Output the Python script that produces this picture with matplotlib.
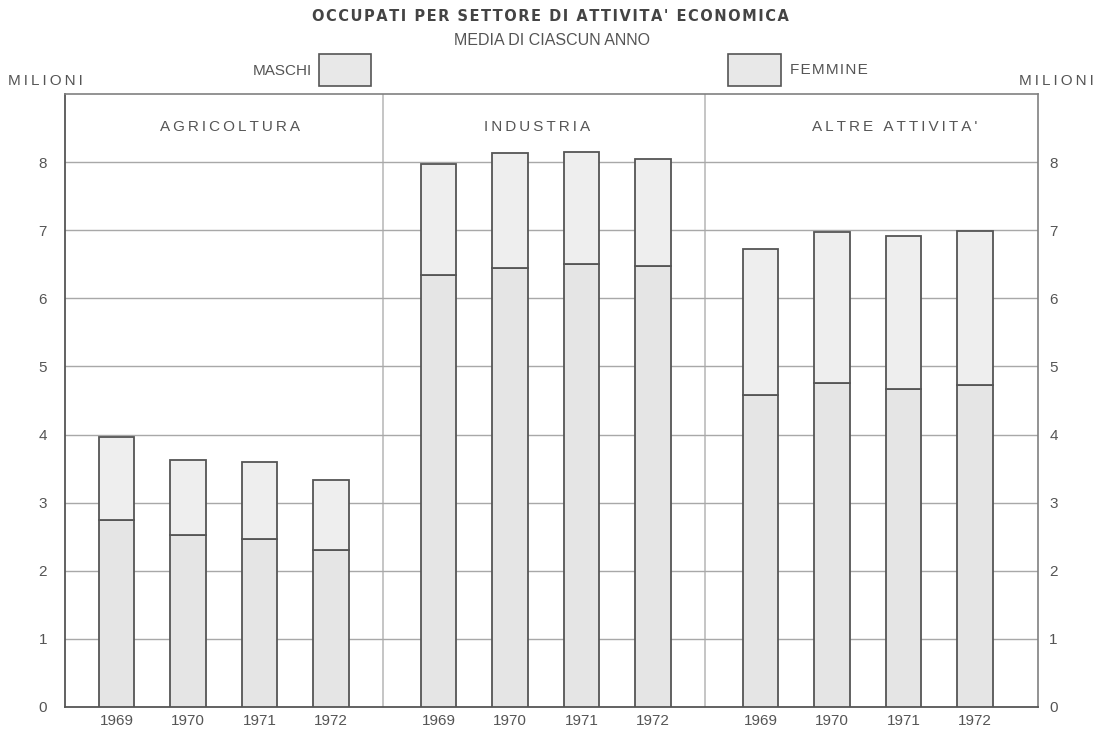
import matplotlib.pyplot as plt
from matplotlib.patches import Rectangle

# dati (milioni di occupati, media di ciascun anno)
settori = ['AGRICOLTURA', 'INDUSTRIA', "ALTRE ATTIVITA'"]
anni = ['1969', '1970', '1971', '1972']
maschi = [
    [2.74, 2.53, 2.47, 2.30],
    [6.34, 6.45, 6.50, 6.47],
    [4.58, 4.75, 4.67, 4.72],
]
totali = [
    [3.97, 3.62, 3.59, 3.33],
    [7.97, 8.13, 8.15, 8.04],
    [6.73, 6.98, 6.92, 6.99],
]
femmine = [[t - m for t, m in zip(tt, mm)] for tt, mm in zip(totali, maschi)]

grigio = '#555555'
plt.rcParams['font.family'] = ['Liberation Sans', 'DejaVu Sans']


def spaziato(testo, sep='\u2009'):
    # spaziatura tra le lettere come nella stampa originale
    return sep.join(testo)


fig = plt.figure(figsize=(11.05, 7.32), dpi=100)
ax = fig.add_axes([0.0588, 0.0342, 0.8806, 0.8374])

larghezza_pannello = 4.5
centri_etichette = [2.3, 6.6, 11.6]
posizioni = []
etichette = []
for i, settore in enumerate(settori):
    x = [i * larghezza_pannello + 0.72 + j for j in range(len(anni))]
    posizioni += x
    etichette += anni
    ax.bar(x, maschi[i], width=0.5, color='#e5e5e5', edgecolor=grigio, linewidth=1.3, zorder=3)
    ax.bar(x, femmine[i], width=0.5, bottom=maschi[i], color='#eeeeee', edgecolor=grigio,
           linewidth=1.3, zorder=3)
    ax.text(centri_etichette[i], 8.52, spaziato(settore), ha='center', va='center',
            fontsize=11, color=grigio)
    if i > 0:
        ax.axvline(i * larghezza_pannello - 0.05, color='#c0c0c0', linewidth=1.3, zorder=1)

for y in range(1, 9):
    ax.axhline(y, color='#a8a8a8', linewidth=1, zorder=1)

ax.set_xlim(0, 13.6)
ax.set_ylim(0, 9)
ax.set_xticks(posizioni)
ax.set_xticklabels(etichette, fontsize=11, color=grigio)
ax.set_yticks(range(0, 9))
ax.tick_params(axis='both', length=0, labelsize=11, labelcolor=grigio)
ax.tick_params(axis='x', pad=5)
ax.tick_params(axis='y', pad=13)
for lato in ['left', 'bottom']:
    ax.spines[lato].set_color(grigio)
    ax.spines[lato].set_linewidth(1.3)
for lato in ['top', 'right']:
    ax.spines[lato].set_color('#808080')
    ax.spines[lato].set_linewidth(1.2)

# scala a destra
ax2 = ax.twinx()
ax2.set_ylim(0, 9)
ax2.set_yticks(range(0, 9))
ax2.tick_params(axis='y', length=0, labelsize=11, labelcolor=grigio, pad=8)
for lato in ax2.spines.values():
    lato.set_visible(False)

# titoli
fig.text(0.4985, 0.978, spaziato("OCCUPATI PER SETTORE DI ATTIVITA' ECONOMICA", '\u200a'),
         ha='center', va='center', fontsize=10.5, fontweight='bold', color='#444444',
         family=['Liberation Sans Narrow', 'DejaVu Sans'])
fig.text(0.5, 0.944, 'MEDIA DI CIASCUN ANNO', ha='center', va='center', fontsize=11.5,
         color=grigio)
fig.text(0.007, 0.889, spaziato('MILIONI'), ha='left', va='center', fontsize=11, color=grigio)
fig.text(0.99, 0.889, spaziato('MILIONI'), ha='right', va='center', fontsize=11, color=grigio)

# legenda
fig.add_artist(Rectangle((0.2887, 0.8825), 0.0471, 0.0437, transform=fig.transFigure,
                         facecolor='#e8e8e8', edgecolor=grigio, linewidth=1.2))
fig.text(0.282, 0.903, 'MASCHI', ha='right', va='center', fontsize=11, color=grigio)
fig.add_artist(Rectangle((0.6588, 0.8825), 0.0480, 0.0437, transform=fig.transFigure,
                         facecolor='#e8e8e8', edgecolor=grigio, linewidth=1.2))
fig.text(0.715, 0.905, spaziato('FEMMINE', '\u200a'), ha='left', va='center', fontsize=11,
         color=grigio)

plt.savefig('out.png', dpi=100)
